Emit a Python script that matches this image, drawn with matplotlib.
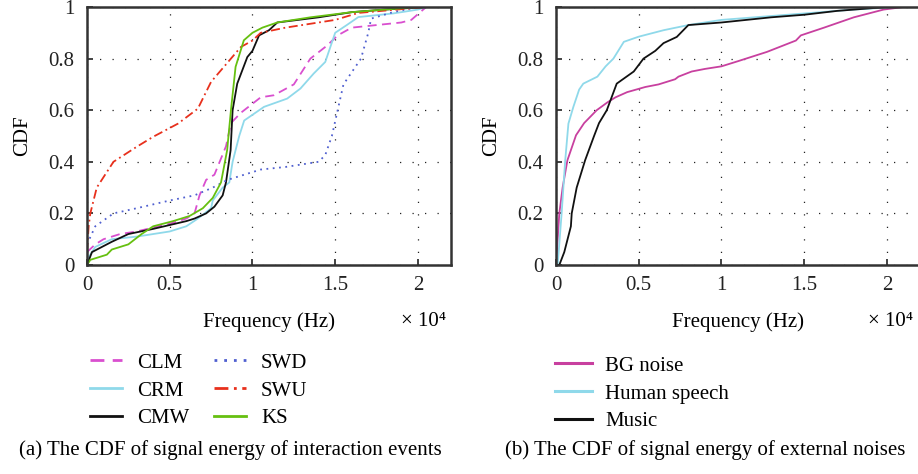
import matplotlib
matplotlib.use('Agg')
import matplotlib.pyplot as plt

plt.rcParams['font.family'] = ['Liberation Serif', 'DejaVu Serif']

# (a) interaction events, x in units of 1e4 Hz
clm_x = [0, 0.05, 0.1, 0.2, 0.3, 0.4, 0.5, 0.6, 0.65, 0.68, 0.72, 0.77, 0.84, 0.87, 0.93, 1.01, 1.05, 1.13, 1.25, 1.35, 1.45, 1.515, 1.6, 1.75, 1.9, 1.96, 2.05, 2.2]
clm_y = [0.05, 0.08, 0.1, 0.12, 0.13, 0.145, 0.16, 0.18, 0.2, 0.27, 0.33, 0.35, 0.46, 0.55, 0.59, 0.63, 0.65, 0.658, 0.70, 0.80, 0.85, 0.89, 0.92, 0.93, 0.94, 0.95, 1.0, 1.0]
crm_x = [0, 0.01, 0.05, 0.15, 0.3, 0.4, 0.5, 0.6, 0.67, 0.75, 0.76, 0.82, 0.86, 0.88, 0.92, 0.95, 1.07, 1.21, 1.29, 1.37, 1.44, 1.5, 1.57, 1.64, 1.85, 2.0, 2.05, 2.2]
crm_y = [0, 0.03, 0.07, 0.1, 0.11, 0.12, 0.13, 0.15, 0.18, 0.22, 0.25, 0.3, 0.32, 0.4, 0.5, 0.56, 0.613, 0.645, 0.684, 0.742, 0.787, 0.9, 0.93, 0.961, 0.975, 0.99, 1.0, 1.0]
cmw_x = [0, 0.03, 0.15, 0.25, 0.4, 0.5, 0.6, 0.65, 0.72, 0.77, 0.82, 0.84, 0.868, 0.88, 0.908, 0.969, 1.0, 1.04, 1.1, 1.15, 1.4, 1.6, 1.8, 2.05, 2.2]
cmw_y = [0, 0.05, 0.09, 0.12, 0.14, 0.155, 0.17, 0.18, 0.2, 0.226, 0.27, 0.32, 0.445, 0.6, 0.703, 0.806, 0.83, 0.89, 0.91, 0.94, 0.96, 0.98, 0.99, 1.0, 1.0]
swd_x = [0, 0.05, 0.16, 0.3, 0.5, 0.65, 0.76, 0.85, 0.95, 1.05, 1.2, 1.4, 1.44, 1.48, 1.515, 1.55, 1.656, 1.7, 1.717, 1.85, 2.0, 2.2]
swd_y = [0.08, 0.15, 0.2, 0.22, 0.25, 0.27, 0.3, 0.33, 0.35, 0.37, 0.38, 0.4, 0.426, 0.5, 0.6, 0.7, 0.8, 0.9, 0.955, 0.98, 1.0, 1.0]
swu_x = [0, 0.01, 0.02, 0.059, 0.16, 0.3, 0.4, 0.55, 0.67, 0.75, 0.87, 0.93, 1.0, 1.05, 1.2, 1.5, 1.64, 1.98, 2.05, 2.2]
swu_y = [0.05, 0.15, 0.2, 0.3, 0.4, 0.458, 0.497, 0.548, 0.606, 0.71, 0.8, 0.845, 0.87, 0.9, 0.92, 0.95, 0.977, 0.996, 1.0, 1.0]
ks_x = [0, 0.02, 0.12, 0.15, 0.25, 0.33, 0.4, 0.52, 0.62, 0.7, 0.76, 0.81, 0.847, 0.87, 0.898, 0.948, 1.0, 1.06, 1.15, 1.35, 1.6, 1.8, 2.0, 2.2]
ks_y = [0, 0.02, 0.04, 0.06, 0.08, 0.12, 0.15, 0.17, 0.19, 0.22, 0.26, 0.32, 0.445, 0.6, 0.768, 0.871, 0.9, 0.92, 0.94, 0.96, 0.98, 0.99, 1.0, 1.0]

# (b) external noises
bg_x = [0, 0.02, 0.04, 0.069, 0.121, 0.17, 0.246, 0.31, 0.36, 0.43, 0.54, 0.62, 0.72, 0.74, 0.82, 0.9, 1.0, 1.1, 1.275, 1.45, 1.48, 1.62, 1.8, 1.98, 2.1, 2.2]
bg_y = [0, 0.2, 0.3, 0.406, 0.503, 0.55, 0.6, 0.63, 0.65, 0.67, 0.69, 0.70, 0.72, 0.73, 0.75, 0.76, 0.77, 0.79, 0.826, 0.87, 0.89, 0.92, 0.96, 0.99, 1.0, 1.0]
hs_x = [0, 0.01, 0.034, 0.055, 0.075, 0.105, 0.14, 0.165, 0.25, 0.3, 0.347, 0.41, 0.5, 0.65, 0.8, 1.0, 1.4, 1.6, 1.8, 2.05, 2.2]
hs_y = [0, 0, 0.2, 0.4, 0.548, 0.613, 0.68, 0.703, 0.73, 0.77, 0.8, 0.865, 0.885, 0.91, 0.93, 0.95, 0.97, 0.98, 0.99, 1.0, 1.0]
mu_x = [0, 0.02, 0.05, 0.07, 0.09, 0.095, 0.125, 0.176, 0.23, 0.26, 0.307, 0.367, 0.47, 0.529, 0.6, 0.65, 0.73, 0.8, 1.0, 1.3, 1.5, 1.7, 2.0, 2.2]
mu_y = [0, 0, 0.05, 0.1, 0.15, 0.2, 0.3, 0.406, 0.5, 0.55, 0.6, 0.703, 0.75, 0.8, 0.83, 0.86, 0.884, 0.93, 0.94, 0.96, 0.97, 0.985, 1.0, 1.0]

xticks = [0, 0.5, 1, 1.5, 2]
xticklabels = ['0', '0.5', '1', '1.5', '2']
yticks = [0, 0.2, 0.4, 0.6, 0.8, 1]
yticklabels = ['0', '0.2', '0.4', '0.6', '0.8', '1']

W, H = 918, 474
FS = 15

fig = plt.figure(figsize=(9.18, 4.74), dpi=100)
ax1 = fig.add_axes([87 / W, 1 - 265 / H, 364 / W, 258 / H])
ax2 = fig.add_axes([556 / W, 1 - 265 / H, 364 / W, 258 / H])


def style(ax):
    ax.set_xlim(0, 2.2)
    ax.set_ylim(0, 1)
    ax.set_xticks(xticks)
    ax.set_xticklabels(xticklabels)
    ax.set_yticks(yticks)
    ax.set_yticklabels(yticklabels)
    ax.tick_params(direction='in', length=4, width=1.2, labelsize=FS, colors='#222222')
    ax.tick_params(axis='y', pad=9)
    ax.tick_params(axis='x', pad=8)
    for s in ax.spines.values():
        s.set_linewidth(1.8)
        s.set_color('#333333')
    ax.grid(color='#222222', linestyle=(0, (1, 9)), linewidth=0.9)
    ax.set_ylabel('CDF', fontsize=FS, labelpad=12)
    ax.set_xlabel('Frequency (Hz)', fontsize=FS, labelpad=12)


ax1.plot(clm_x, clm_y, color='#d94fcf', linestyle=(0, (5, 3)), lw=1.3, label='CLM')
ax1.plot(crm_x, crm_y, color='#8fd9ea', lw=1.3, label='CRM')
ax1.plot(cmw_x, cmw_y, color='#111111', lw=1.3, label='CMW')
ax1.plot(swd_x, swd_y, color='#5060d0', linestyle=(0, (1, 2.5)), lw=1.3, label='SWD')
ax1.plot(swu_x, swu_y, color='#e8301c', linestyle=(0, (5, 2, 1, 2)), lw=1.3, label='SWU')
ax1.plot(ks_x, ks_y, color='#66c010', lw=1.3, label='KS')
style(ax1)
h1, l1 = ax1.get_legend_handles_labels()
leg1 = fig.legend(h1, l1, loc='upper left', bbox_to_anchor=(90 / W, 1 - 353 / H), ncol=2, frameon=False,
                  fontsize=FS, handlelength=1.55, handletextpad=0.7, columnspacing=1.2,
                  labelspacing=0.4, borderpad=0, borderaxespad=0)
for ln in leg1.get_lines():
    ln.set_linewidth(2.0)

ax2.plot(bg_x, bg_y, color='#c8409f', lw=1.3, label='BG noise')
ax2.plot(hs_x, hs_y, color='#8fd9ea', lw=1.3, label='Human speech')
ax2.plot(mu_x, mu_y, color='#111111', lw=1.3, label='Music')
style(ax2)
h2, l2 = ax2.get_legend_handles_labels()
leg2 = fig.legend(h2, l2, loc='upper left', bbox_to_anchor=(555 / W, 1 - 356 / H), ncol=1, frameon=False,
                  fontsize=FS, handlelength=1.78, handletextpad=0.62, labelspacing=0.4,
                  borderpad=0, borderaxespad=0)
for ln in leg2.get_lines():
    ln.set_linewidth(2.2)

fig.text(424 / W, 1 - 321 / H, '× 10⁴', fontsize=FS, ha='center', va='center')
fig.text(891 / W, 1 - 321 / H, '× 10⁴', fontsize=FS, ha='center', va='center')
fig.text(230 / W, 1 - 450 / H, '(a) The CDF of signal energy of interaction events', fontsize=FS, ha='center', va='center')
fig.text(705 / W, 1 - 450 / H, '(b) The CDF of signal energy of external noises', fontsize=FS, ha='center', va='center')

fig.savefig('out.png', dpi=100)
